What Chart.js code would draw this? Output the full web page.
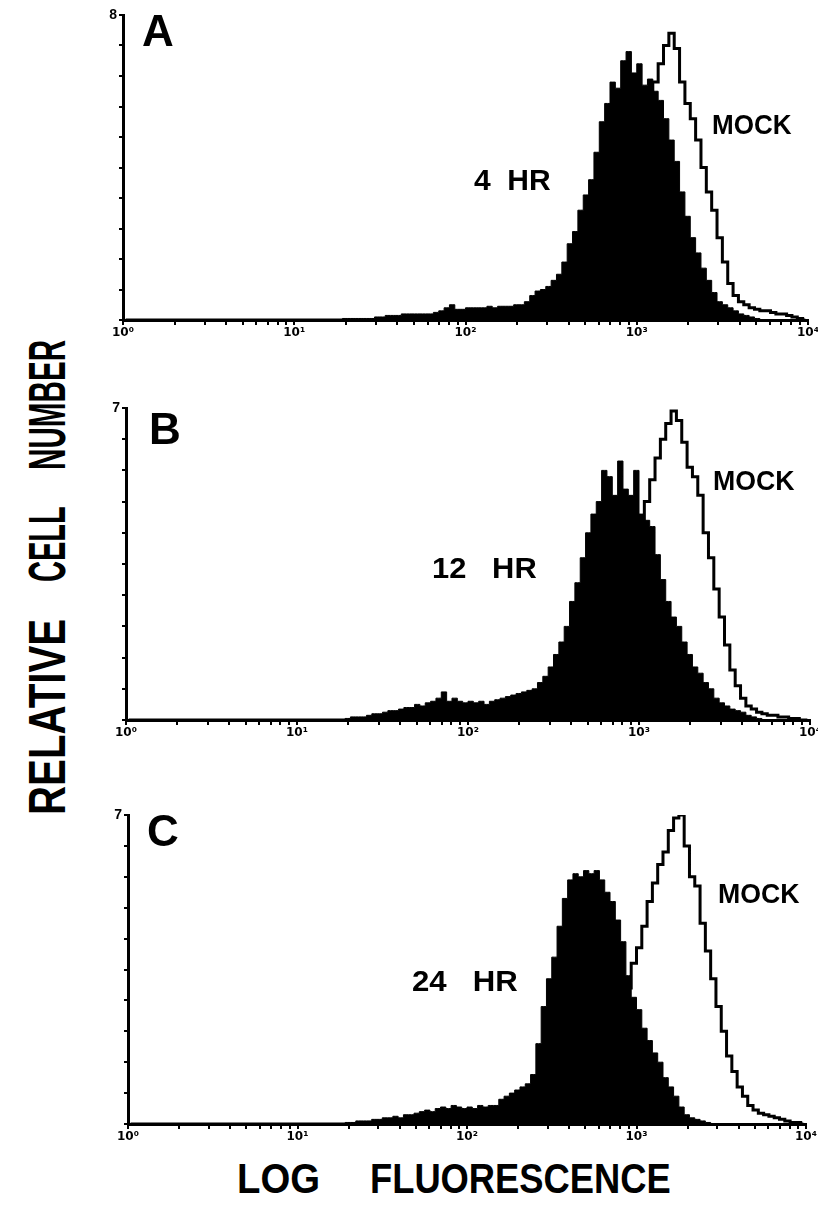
<!DOCTYPE html>
<html>
<head>
<meta charset="utf-8">
<script src="https://cdn.jsdelivr.net/npm/chart.js@4.4.0/dist/chart.umd.min.js"></script>
<style>
  body { margin: 0; background: #fff; width: 818px; height: 1217px; position: relative; overflow: hidden; }
  canvas { position: absolute; }
  .lbl { position: absolute; font-family: "Liberation Sans", Arial, sans-serif; font-weight: bold; color: #000;
         white-space: pre; line-height: 1; transform-origin: left top; }
</style>
</head>
<body>
<canvas id="chartA"></canvas>
<canvas id="chartB"></canvas>
<canvas id="chartC"></canvas>
<script>
// flow cytometer channels, 32 per decade over 4 decades
var channelsPerDecade = 32;
var channels = Array.from({length: 128}, function (_, i) { return i; });
var tickLabels = ['10\u2070', '10\u00b9', '10\u00b2', '10\u00b3', '10\u2074'];

// panel A, 4 HR
var aFilled = [
  0,0,0,0,0,0,0,0,0,0,0,0,0,0,0,0,0,0,0,0,0,0,0,0,0,0,0,0,0,0,0,0,
  0,0,0,0,0,0,0,0,0,0.5,0.5,0.5,0.5,0.5,0.5,1,1,1.5,1.5,1.5,2,2,2,2,2,2,2.5,3,4,5,3.5,3.5,
  4,4,4,4,4.5,4,4.5,4.5,4.5,5,5,6,8,9.5,10,11,13,15,19,25,29,36,41,46,55,65,71,78,76,85,88,81,
  84,77,79,75,72,66,59,52,42,34,27,22,17,13,9,6,5,4,3,2,1.5,1,0.5,0,0,0,0,0,0,0,0,0
];
var aMock = [
  0,0,0,0,0,0,0,0,0,0,0,0,0,0,0,0,0,0,0,0,0,0,0,0,0,0,0,0,0,0,0,0,
  0,0,0,0,0,0,0,0,0,0,0,0,0,0,0,0,0,0,0,0,0,0,0,0,0,0,0,0,0,0,0,0,
  0,0,0,0,0,0,0,0,0,0,0,0,0,0,0,0,0,0,0,0,0,3,5,7,10,14,18,24,30,37,45,52,
  60,66,72,78,84,90,94,89,78,71,66,59,50,42,36,27,19,12,8,6,5,4,3.5,3,3,2.5,2,2,1.5,1,0.5,0
];

// panel B, 12 HR
var bFilled = [
  0,0,0,0,0,0,0,0,0,0,0,0,0,0,0,0,0,0,0,0,0,0,0,0,0,0,0,0,0,0,0,0,
  0,0,0,0,0,0,0,0,0,0.5,1,1,1,1.5,2,2,2.5,3,3,3.5,4,4,5,4.5,5.5,6,7,9,6,7,6,5.5,
  6,5.5,6,5,6,6.5,7,7.5,8,8.5,9,9.5,10,12,14,17,21,25,30,38,44,52,60,66,70,80,78,72,83,74,72,80,
  66,64,62,53,45,38,33,30,25,21,17,15,12,10,7,5.5,4.5,3.5,3,2.5,1.5,1,0.5,0,0,0,0,0,0,0,0,0
];
var bMock = [
  0,0,0,0,0,0,0,0,0,0,0,0,0,0,0,0,0,0,0,0,0,0,0,0,0,0,0,0,0,0,0,0,
  0,0,0,0,0,0,0,0,0,0,0,0,0,0,0,0,0,0,0,0,0,0,0,0,0,0,0,0,0,0,0,0,
  0,0,0,0,0,0,0,0,0,0,0,0,0,0,0,0,0,0,0,0,0,0,3,5,8,12,17,23,30,38,46,55,
  63,70,77,84,90,95,99,96,89,81,78,72,60,52,42,33,24,16,11,7,4.5,3.5,2.5,2,1.5,1.5,1,1,0.5,0.5,0,0
];

// panel C, 24 HR
var cFilled = [
  0,0,0,0,0,0,0,0,0,0,0,0,0,0,0,0,0,0,0,0,0,0,0,0,0,0,0,0,0,0,0,0,
  0,0,0,0,0,0,0,0,0,0.5,0.5,1,1,1,1.5,1.5,2,2,2.5,2,3,3,3.5,4,4.5,4,5,5.5,5,6,5.5,5,
  5.5,5,6,5.5,6,6,8,9,10,11,12,13,16,26,38,47,54,64,73,79,81,80,82,81,82,79,75,72,66,59,48,41,
  37,31,27,23,20,15,12,9,5.5,3,2,1.5,1,0.5,0,0,0,0,0,0,0,0,0,0,0,0,0,0,0,0,0,0
];
var cMock = [
  0,0,0,0,0,0,0,0,0,0,0,0,0,0,0,0,0,0,0,0,0,0,0,0,0,0,0,0,0,0,0,0,
  0,0,0,0,0,0,0,0,0,0,0,0,0,0,0,0,0,0,0,0,0,0,0,0,0,0,0,0,0,0,0,0,
  0,0,0,0,0,0,0,0,0,0,0,0,0,0,0,0,0,0,0,0,0,0,2,3,4,6,9,13,20,30,44,52,
  57,64,72,78,84,88,95,99,100,90,80,77,65,56,47,38,30,22,17,12,9,6,4.5,3.5,3,2.5,2,1.5,1,0.5,0.5,0
];

// minor log ticks 1..9 x 10^k
var logTicks = [];
for (var k = 0; k < 4; k++) {
  for (var m = 1; m < 10; m++) logTicks.push(m * Math.pow(10, k));
}
logTicks.push(10000);

function toPoints(vals) {
  return channels.map(function (c) {
    return {x: Math.pow(10, (c + 0.5) / channelsPerDecade), y: vals[c]};
  });
}

var Y_AXIS_W = 34, X_AXIS_H = 30, PAD = 12;

function makePanel(id, filled, mock, topLabel, left, right, top, bottom) {
  var cv = document.getElementById(id);
  var cl = left - Y_AXIS_W, ct = top - PAD;
  cv.width = right + PAD - cl;
  cv.height = bottom + X_AXIS_H - ct;
  cv.style.left = cl + 'px';
  cv.style.top = ct + 'px';

  new Chart(cv.getContext('2d'), {
    type: 'line',
    data: {
      datasets: [{
        data: toPoints(filled),
        stepped: 'middle',
        fill: 'origin',
        backgroundColor: '#000',
        borderColor: '#000',
        borderWidth: 1,
        pointRadius: 0
      }, {
        data: toPoints(mock),
        stepped: 'middle',
        fill: false,
        borderColor: '#000',
        borderWidth: 3,
        pointRadius: 0
      }]
    },
    options: {
      responsive: false,
      animation: false,
      events: [],
      layout: { padding: { top: PAD, right: PAD, left: 0, bottom: 0 } },
      plugins: { legend: { display: false }, tooltip: { enabled: false } },
      scales: {
        x: {
          type: 'logarithmic',
          min: 1,
          max: 10000,
          afterBuildTicks: function (scale) {
            scale.ticks = logTicks.map(function (v) { return {value: v}; });
          },
          afterFit: function (scale) { scale.height = X_AXIS_H; },
          ticks: {
            autoSkip: false,
            maxRotation: 0,
            padding: 1,
            color: '#000',
            font: { family: 'DejaVu Sans', weight: 'bold', size: 12 },
            callback: function (v) {
              var e = Math.log10(v);
              return Math.abs(e - Math.round(e)) < 1e-9 ? tickLabels[Math.round(e)] : '';
            }
          },
          grid: { drawOnChartArea: false, tickLength: 5, lineWidth: 2, color: '#000' },
          border: { color: '#000', width: 3 }
        },
        y: {
          min: 0,
          max: 100,
          afterFit: function (scale) { scale.width = Y_AXIS_W; },
          ticks: {
            stepSize: 10,
            padding: 2,
            color: '#000',
            font: { family: 'Liberation Sans', weight: 'bold', size: 14 },
            callback: function (v) { return v === 100 ? topLabel : ''; }
          },
          grid: { drawOnChartArea: false, tickLength: 4, lineWidth: 2, color: '#000' },
          border: { color: '#000', width: 3 }
        }
      }
    }
  });
}

makePanel('chartA', aFilled, aMock, '8', 123, 808, 15, 320);
makePanel('chartB', bFilled, bMock, '7', 126, 810, 408, 720);
makePanel('chartC', cFilled, cMock, '7', 128, 806, 815, 1124);

// text labels, placed by cap top; optional width squeezes the text horizontally
function label(txt, left, capTop, size, width) {
  var d = document.createElement('div');
  d.className = 'lbl';
  d.textContent = txt;
  d.style.fontSize = size + 'px';
  d.style.left = left + 'px';
  d.style.top = (capTop - 0.13 * size) + 'px';
  document.body.appendChild(d);
  if (width) d.style.transform = 'scaleX(' + (width / d.offsetWidth) + ')';
  return d;
}

function vlabel(txt, xLeft, yBottom, size, length) {
  var d = document.createElement('div');
  d.className = 'lbl';
  d.textContent = txt;
  d.style.fontSize = size + 'px';
  d.style.left = (xLeft - 0.13 * size) + 'px';
  d.style.top = yBottom + 'px';
  document.body.appendChild(d);
  d.style.transform = 'rotate(-90deg) scaleX(' + (length / d.offsetWidth) + ')';
}

label('A', 142, 15, 44);
label('B', 149, 413, 44);
label('C', 147, 815, 44);

label('4  HR', 474, 169, 30);
label('12   HR', 432, 557, 30, 105);
label('24   HR', 412, 970, 30, 106);

label('MOCK', 712, 116, 27, 80);
label('MOCK', 713, 472, 27, 82);
label('MOCK', 718, 885, 27, 82);

label('LOG', 237, 1163, 42, 83);
label('FLUORESCENCE', 370, 1163, 42, 301);

vlabel('RELATIVE', 28, 815, 52, 196);
vlabel('CELL', 28, 582, 52, 76);
vlabel('NUMBER', 28, 470, 52, 130);
</script>
</body>
</html>
